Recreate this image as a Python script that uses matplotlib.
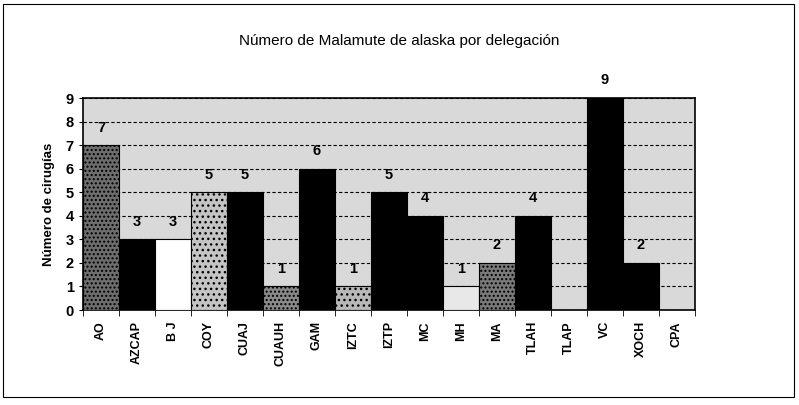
import matplotlib
matplotlib.use("Agg")
import matplotlib.pyplot as plt
from matplotlib.patches import Rectangle
from matplotlib import font_manager
import numpy as np

categories = ["AO", "AZCAP", "B J", "COY", "CUAJ", "CUAUH", "GAM", "IZTC", "IZTP",
              "MC", "MH", "MA", "TLAH", "TLAP", "VC", "XOCH", "CPA"]
values = [7, 3, 3, 5, 5, 1, 6, 1, 5, 4, 1, 2, 4, 0, 9, 2, 0]
bar_colors = ["#6e6e6e", "#000000", "#ffffff", "#c4c4c4", "#000000", "#8a8a8a", "#000000",
              "#b8b8b8", "#000000", "#000000", "#e8e8e8", "#7a7a7a", "#000000", "#000000",
              "#000000", "#000000", "#000000"]
bar_hatches = ["....", None, None, "...", None, "....", None, "...", None, None, None,
               "....", None, None, None, None, None]

plt.rcParams["font.family"] = ["Liberation Sans", "DejaVu Sans"]
names = {f.name for f in font_manager.fontManager.ttflist}
title_family = ["Liberation Sans Narrow", "Liberation Sans", "DejaVu Sans"] \
    if "Liberation Sans Narrow" in names else ["Liberation Sans", "DejaVu Sans"]

fig = plt.figure(figsize=(7.99, 4.05), dpi=100)
ax = fig.add_axes([83/799, 1 - 310/405, (695-83)/799, (310-98)/405])
ax.set_facecolor("#d9d9d9")

x = np.arange(len(categories))
for xi, v, c, h in zip(x, values, bar_colors, bar_hatches):
    if v > 0:
        ax.bar(xi, v, width=1.0, color=c, edgecolor="black", linewidth=0.8,
               hatch=h, zorder=3)
        ax.text(xi, v + 0.45, str(v), ha="center", va="bottom", fontsize=10.5,
                fontweight="bold", clip_on=False, zorder=5)

ax.set_xlim(-0.5, len(categories) - 0.5)
ax.set_ylim(0, 9)
ax.set_yticks(range(0, 10))
ax.set_yticklabels([str(i) for i in range(0, 10)], fontsize=10.5, fontweight="bold")
ax.set_xticks(x)
ax.set_xticklabels(categories, rotation=90, fontsize=9, fontweight="bold")
ax.tick_params(axis="x", length=0, pad=8)
ax.set_xticks(np.arange(-0.5, len(categories), 1), minor=True)
ax.tick_params(axis="x", which="minor", length=4, direction="out")
ax.tick_params(axis="y", length=3, direction="out")
ax.yaxis.grid(True, color="black", linestyle=(0, (3, 2)), linewidth=0.8, zorder=1)
ax.set_axisbelow(True)
for s in ax.spines.values():
    s.set_linewidth(1.2)

ax.set_ylabel("Número de cirugías", fontsize=9.5, fontweight="bold", labelpad=8)
fig.text(0.5, 1 - 41/405, "Número de Malamute de alaska por delegación",
         ha="center", va="center", fontsize=11, family=title_family)

fig.patches.append(Rectangle((0.004, 0.02), 0.99, 0.97, transform=fig.transFigure,
                             fill=False, edgecolor="black", linewidth=0.8))

fig.savefig("out.png", dpi=100)
